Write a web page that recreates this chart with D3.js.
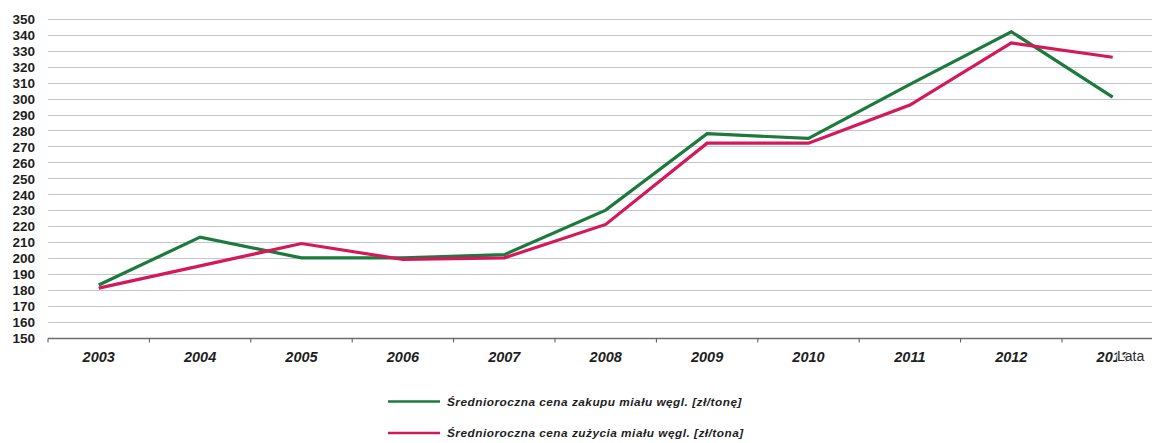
<!DOCTYPE html>
<html>
<head>
<meta charset="utf-8">
<script src="https://cdn.jsdelivr.net/npm/d3@7"></script>
<style>
  html, body { margin: 0; padding: 0; background: #fff; }
  svg { display: block; }
</style>
</head>
<body>
<svg id="chart" width="1152" height="443"></svg>
<script>
// Years on the category axis
const years = ["2003", "2004", "2005", "2006", "2007", "2008", "2009", "2010", "2011", "2012", "2013"];
// Average annual purchase price of coal fines [zł/t]
const purchasePrice = [183, 213, 200, 200, 202, 230, 278, 275, 309, 342, 301];
// Average annual consumption price of coal fines [zł/t]
const usagePrice = [181, 195, 209, 199, 200, 221, 272, 272, 296, 335, 326];
// Value axis ticks
const yTicks = [150, 160, 170, 180, 190, 200, 210, 220, 230, 240, 250, 260, 270, 280, 290, 300, 310, 320, 330, 340, 350];

const seriesNames = [
  "Średnioroczna cena zakupu miału węgl. [zł/tonę]",
  "Średnioroczna cena zużycia miału węgl. [zł/tona]"
];
const seriesColors = ["#1b7a3c", "#d4185a"];
const axisTitle = "Lata";

const svg = d3.select("#chart");
const W = 1152;

const x = d3.scaleBand().domain(years).range([48, 48 + 101.4 * years.length]).padding(0);
const y = d3.scaleLinear().domain([150, 350]).range([337.5, 19]);

// Horizontal gridlines
svg.append("g")
  .selectAll("line")
  .data(yTicks.filter(t => t > 150))
  .join("line")
  .attr("x1", 48).attr("x2", W)
  .attr("y1", d => Math.round(y(d)) + 0.5)
  .attr("y2", d => Math.round(y(d)) + 0.5)
  .attr("stroke", "#c4c6cc")
  .attr("stroke-width", 1);

// Value axis labels
const yAxis = d3.axisLeft(y).tickValues(yTicks).tickSize(0).tickPadding(0);
const yg = svg.append("g").attr("transform", "translate(35,0)").call(yAxis);
yg.select(".domain").remove();
yg.selectAll("text")
  .attr("font-family", "Liberation Sans, Arial, sans-serif")
  .attr("font-size", 13.5)
  .attr("font-weight", "bold")
  .attr("fill", "#1e1e1e")
  .attr("dy", "0.36em");

// Category axis with ticks at band edges
const baseY = Math.round(y(150)) + 0.5;
const xg = svg.append("g");
xg.append("line")
  .attr("x1", 48).attr("x2", W)
  .attr("y1", baseY).attr("y2", baseY)
  .attr("stroke", "#6e6e6e").attr("stroke-width", 1.6);
xg.selectAll("line.tick")
  .data(years)
  .join("line")
  .attr("class", "tick")
  .attr("x1", d => x(d)).attr("x2", d => x(d))
  .attr("y1", baseY).attr("y2", baseY + 4)
  .attr("stroke", "#555").attr("stroke-width", 1);
xg.selectAll("text")
  .data(years)
  .join("text")
  .attr("x", d => x(d) + x.bandwidth() / 2)
  .attr("y", 362)
  .attr("text-anchor", "middle")
  .attr("font-family", "Liberation Sans, Arial, sans-serif")
  .attr("font-size", 14.5)
  .attr("font-weight", "bold")
  .attr("font-style", "italic")
  .attr("fill", "#1e1e1e")
  .text(d => d);

// Axis title, sitting over the end of the last year label
svg.append("text")
  .attr("x", 1117)
  .attr("y", 361)
  .attr("font-family", "Liberation Sans, Arial, sans-serif")
  .attr("font-size", 14)
  .attr("fill", "#2a2a2a")
  .attr("stroke", "#fff")
  .attr("stroke-width", 2)
  .attr("paint-order", "stroke")
  .text(axisTitle);

// Series lines
const line = d3.line()
  .x((d, i) => x(years[i]) + x.bandwidth() / 2)
  .y(d => y(d));

[purchasePrice, usagePrice].forEach((vals, k) => {
  svg.append("path")
    .datum(vals)
    .attr("fill", "none")
    .attr("stroke", seriesColors[k])
    .attr("stroke-width", 3.2)
    .attr("stroke-linejoin", "miter")
    .attr("d", line);
});

// Legend
const legend = svg.append("g");
seriesNames.forEach((name, k) => {
  const ly = 401.5 + k * 31.5;
  legend.append("line")
    .attr("x1", 388).attr("x2", 440)
    .attr("y1", ly).attr("y2", ly)
    .attr("stroke", seriesColors[k])
    .attr("stroke-width", 2.6);
  legend.append("text")
    .attr("x", 447)
    .attr("y", ly + 4)
    .attr("font-family", "Liberation Sans, Arial, sans-serif")
    .attr("font-size", 11.8)
    .attr("font-weight", "bold")
    .attr("font-style", "italic")
    .attr("letter-spacing", 0.5)
    .attr("fill", "#1e1e1e")
    .text(name);
});
</script>
</body>
</html>
